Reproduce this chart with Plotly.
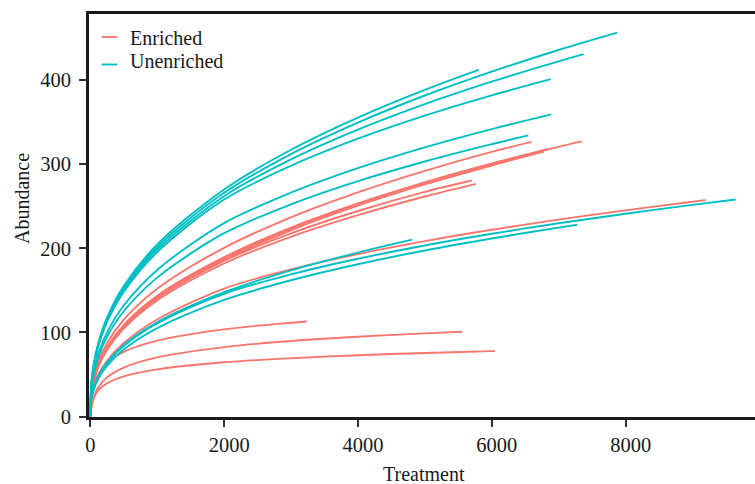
import plotly.graph_objects as go

# Sampled sequencing depths at which richness was evaluated; each curve
# uses the depths below its own final depth, then its final depth.
DEPTHS = [0, 15, 50, 120, 250, 500, 1000, 2000, 3000, 4000, 5000, 6000, 7000, 8000, 9000]

# Enriched samples: final depth and richness values
E1_END = 7345
E1 = [0, 26.8, 43.3, 61.5, 82.5, 108.8, 143.6, 189.5, 224.7, 253.5, 278.5, 300.6, 320.7, 327.2]
E2_END = 6598
E2 = [0, 28.3, 45.9, 65.1, 87.3, 115.2, 152.0, 200.6, 236.9, 266.5, 292.1, 314.7, 326.5]
E3_END = 6846
E3 = [0, 26.6, 43.0, 61.0, 81.8, 108.0, 142.5, 188.0, 223.6, 252.9, 278.2, 300.7, 318.2]
E4_END = 6780
E4 = [0, 26.3, 42.5, 60.4, 81.0, 106.8, 141.0, 186.0, 221.5, 250.7, 276.0, 298.5, 315.0]
E5_END = 5701
E5 = [0, 26.2, 42.4, 60.1, 80.6, 106.4, 140.4, 185.2, 217.8, 244.4, 267.2, 280.6]
E6_END = 5765
E6 = [0, 25.7, 41.6, 59.1, 79.2, 104.5, 137.9, 182.0, 213.7, 239.4, 261.6, 276.7]
E7_END = 9199
E7 = [0, 21.5, 34.8, 49.4, 66.3, 87.4, 115.4, 152.2, 175.0, 193.2, 208.6, 222.1, 234.2, 245.2, 255.4, 257.3]
E8_END = 3235
E8 = [0, 17.9, 35.0, 50.2, 63.7, 76.9, 90.3, 103.7, 111.6, 113.1]
E9_END = 5561
E9 = [0, 10.0, 22.4, 34.8, 46.6, 58.3, 70.4, 82.6, 89.8, 94.9, 98.9, 100.8]
E10_END = 6049
E10 = [0, 11.1, 21.8, 31.2, 39.6, 47.8, 56.1, 64.5, 69.4, 72.9, 75.6, 77.8, 77.9]

# Unenriched samples: final depth and richness values
U1_END = 7877
U1 = [0, 37.6, 60.8, 86.3, 115.8, 152.8, 201.6, 266.0, 312.1, 349.5, 381.7, 410.1, 435.8, 456.4]
U2_END = 7375
U2 = [0, 37.0, 59.9, 85.0, 114.0, 150.5, 198.6, 262.0, 305.8, 341.2, 371.5, 398.2, 422.3, 430.8]
U3_END = 6882
U3 = [0, 36.5, 59.0, 83.7, 112.3, 148.2, 195.5, 258.0, 298.2, 330.4, 357.8, 381.9, 401.2]
U4_END = 5806
U4 = [0, 38.2, 61.7, 87.6, 117.5, 155.1, 204.6, 270.0, 317.2, 355.5, 388.5, 412.2]
U5_END = 6891
U5 = [0, 32.5, 52.6, 74.6, 100.1, 132.1, 174.3, 230.0, 266.2, 295.3, 320.0, 341.7, 359.2]
U6_END = 6547
U6 = [0, 30.8, 49.9, 70.7, 94.9, 125.2, 165.2, 218.0, 252.3, 279.9, 303.3, 323.9, 334.3]
U7_END = 9647
U7 = [0, 20.6, 33.4, 47.4, 63.6, 83.8, 110.7, 146.0, 169.1, 187.6, 203.4, 217.3, 229.8, 241.1, 251.7, 258.1]
U8_END = 7280
U8 = [0, 19.6, 31.7, 45.0, 60.4, 79.7, 105.1, 138.7, 162.1, 181.1, 197.4, 211.7, 224.7, 228.1]
U9_END = 4813
U9 = [0, 20.9, 33.8, 48.0, 64.3, 84.9, 112.0, 147.8, 173.8, 195.0, 210.3]

ENRICHED = [(E1_END, E1), (E2_END, E2), (E3_END, E3), (E4_END, E4), (E5_END, E5),
            (E6_END, E6), (E7_END, E7), (E8_END, E8), (E9_END, E9), (E10_END, E10)]
UNENRICHED = [(U1_END, U1), (U2_END, U2), (U3_END, U3), (U4_END, U4), (U5_END, U5),
              (U6_END, U6), (U7_END, U7), (U8_END, U8), (U9_END, U9)]

X_TICKS = [0, 2000, 4000, 6000, 8000]
X_TICK_TEXT = ["0", "\u00a0\u00a02000", "\u00a0\u00a04000", "\u00a0\u00a06000", "\u00a0\u00a08000"]
Y_TICKS = [0, 100, 200, 300, 400]
GROUP_NAMES = ["Enriched", "Unenriched"]
GROUP_COLORS = ["#F8766D", "#00BFC4"]

FONT = "Liberation Serif"
INK = "#1a1a1a"

W, H = 755, 484
L, R, T, B = 89, 0, 14, 67


def depth_axis(final_depth):
    return [d for d in DEPTHS if d < final_depth] + [final_depth]


def paper_x(px):
    return (px - L) / (W - L - R)


def paper_y(py):
    return (H - B - py) / (H - T - B)


fig = go.Figure()

for (samples, color) in zip([ENRICHED, UNENRICHED], GROUP_COLORS):
    for final_depth, richness in samples:
        fig.add_trace(go.Scatter(
            x=depth_axis(final_depth), y=richness, mode="lines",
            line=dict(color=color, width=1.9, shape="spline", smoothing=0.9),
            showlegend=False, hoverinfo="skip",
        ))

axis_common = dict(
    showline=True, linewidth=3, linecolor=INK,
    ticks="outside", ticklen=7, tickwidth=1.5, tickcolor="#333333",
    showgrid=False, zeroline=False,
    tickfont=dict(family=FONT, size=20.5, color=INK),
)

fig.update_layout(
    width=W, height=H,
    margin=dict(l=L, r=R, t=T, b=B, pad=0),
    paper_bgcolor="white", plot_bgcolor="white",
    showlegend=False,
    xaxis=dict(range=[-19.4, 9935.7], tickvals=X_TICKS, ticktext=X_TICK_TEXT,
               mirror=True, **axis_common),
    yaxis=dict(range=[-0.5, 478.6], tickvals=Y_TICKS, mirror=False,
               ticklabelstandoff=4, **axis_common),
)

# Axis titles
fig.add_annotation(text="Treatment", xref="paper", yref="paper",
                   x=paper_x(424.3), y=paper_y(473.5), xanchor="center", yanchor="middle",
                   showarrow=False, font=dict(family=FONT, size=20, color=INK))
fig.add_annotation(text="Abundance", xref="paper", yref="paper",
                   x=paper_x(22), y=paper_y(199), xanchor="center", yanchor="middle",
                   textangle=-90, showarrow=False, font=dict(family=FONT, size=20, color=INK))

# Legend drawn inside the panel: key line row, text row
legend_key_rows = [37, 64.5]
legend_text_rows = [38, 61.5]
for name, color, key_row, text_row in zip(GROUP_NAMES, GROUP_COLORS,
                                          legend_key_rows, legend_text_rows):
    fig.add_shape(type="line", xref="paper", yref="paper",
                  x0=paper_x(101.7), x1=paper_x(117.3), y0=paper_y(key_row), y1=paper_y(key_row),
                  line=dict(color=color, width=1.9))
    fig.add_annotation(text=name, xref="paper", yref="paper",
                       x=paper_x(128), y=paper_y(text_row), xanchor="left", yanchor="middle",
                       showarrow=False, font=dict(family=FONT, size=20, color=INK))

fig.write_html("out.html")
